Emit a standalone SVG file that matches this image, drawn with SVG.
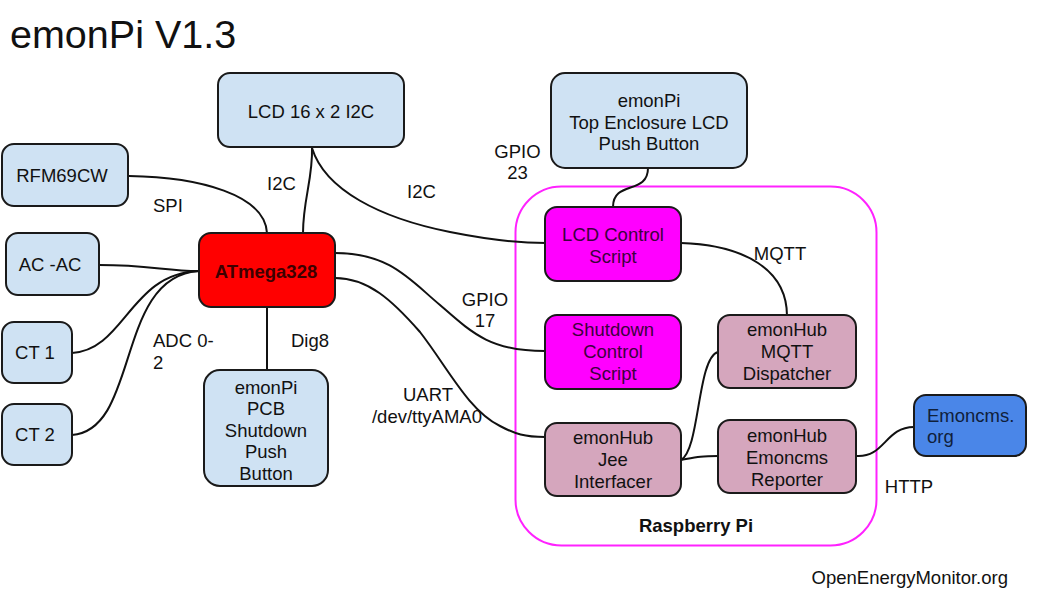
<svg xmlns="http://www.w3.org/2000/svg" width="1041" height="595" viewBox="0 0 1041 595">
<style>
text{font-family:"Liberation Sans",Arial,sans-serif;font-size:18.5px;fill:#111;}
.c{text-anchor:middle;}
.box{stroke:#1a1a1a;stroke-width:2;}
.lb{fill:#cfe2f3;}
.red{fill:#ff0000;}
.mag{fill:#ff00ff;}
.mau{fill:#d5a6bd;}
.blu{fill:#4a86e8;}
.conn path{fill:none;stroke:#111;stroke-width:2;}
.bold{font-weight:bold;}
</style>
<rect width="1041" height="595" fill="#ffffff"/>
<text x="10" y="48" style="font-size:39.5px">emonPi V1.3</text>
<text x="1008" y="584" style="text-anchor:end">OpenEnergyMonitor.org</text>

<g id="rpi">
<rect x="515.5" y="186.5" width="361" height="359" rx="46" fill="none" stroke="#ff22ff" stroke-width="2"/>
<text class="c bold" x="696" y="531.5">Raspberry Pi</text>
</g>

<g class="conn" id="connectors">
<path d="M129,176 C200,177 265,195 267,233"/>
<path d="M312,148 C313,178 303,200 303,233"/>
<path d="M312,148 C325,190 380,218 450,232 C490,240 520,243 546,243"/>
<path d="M99,265 C150,265 165,271 199,271"/>
<path d="M72,353 C125,350 130,273 199,271"/>
<path d="M72,435 C140,430 115,276 199,271"/>
<path d="M267,307 L267,370"/>
<path d="M335,253 C390,253 410,280 440,305 C472,333 490,351 545,351"/>
<path d="M335,278 C368,278 392,300 420,332 C448,368 468,410 500,426 C515,434 525,437 545,437"/>
<path d="M648,168 C648,195 613,180 613,207"/>
<path d="M681,243 C745,245 787,270 787,316"/>
<path d="M681,460 C700,450 697,358 718,352"/>
<path d="M681,460 C697,457 700,456 718,456"/>
<path d="M856,456 C885,458 885,427 914,427"/>
</g>

<g id="labels">
<text x="153" y="212">SPI</text>
<text x="267" y="190">I2C</text>
<text x="407" y="198">I2C</text>
<text class="c" x="517.5" y="158">GPIO</text>
<text class="c" x="517.5" y="179">23</text>
<text class="c" x="780" y="260">MQTT</text>
<text class="c" x="485" y="306">GPIO</text>
<text class="c" x="485" y="327">17</text>
<text x="153" y="347">ADC 0-</text>
<text x="153" y="369">2</text>
<text class="c" x="310" y="347">Dig8</text>
<text class="c" x="428" y="401">UART</text>
<text class="c" x="427" y="423">/dev/ttyAMA0</text>
<text class="c" x="909" y="493">HTTP</text>
</g>

<g id="lcd">
<rect class="box lb" x="218" y="73" width="186" height="74" rx="12"/>
<text class="c" x="311" y="118">LCD 16 x 2 I2C</text>
</g>
<g id="rfm">
<rect class="box lb" x="2" y="144" width="126" height="62" rx="12"/>
<text class="c" x="62" y="182">RFM69CW</text>
</g>
<g id="acac">
<rect class="box lb" x="6" y="233" width="93" height="62" rx="12"/>
<text class="c" x="50" y="271">AC -AC</text>
</g>
<g id="atmega">
<rect class="box red" x="199" y="233" width="136" height="74" rx="12"/>
<text class="c bold" x="266" y="278" style="fill:#3d0000">ATmega328</text>
</g>
<g id="ct1">
<rect class="box lb" x="2" y="322" width="70" height="61" rx="12"/>
<text class="c" x="35" y="359">CT 1</text>
</g>
<g id="ct2">
<rect class="box lb" x="2" y="404" width="70" height="61" rx="12"/>
<text class="c" x="35" y="441">CT 2</text>
</g>
<g id="pcb">
<rect class="box lb" x="204" y="370" width="124" height="116" rx="16"/>
<text class="c" x="266" y="393.5">emonPi</text>
<text class="c" x="266" y="415">PCB</text>
<text class="c" x="266" y="436.5">Shutdown</text>
<text class="c" x="266" y="458">Push</text>
<text class="c" x="266" y="479.5">Button</text>
</g>
<g id="topbtn">
<rect class="box lb" x="551" y="73" width="196" height="95" rx="14"/>
<text class="c" x="649" y="107">emonPi</text>
<text class="c" x="649" y="128.5">Top Enclosure LCD</text>
<text class="c" x="649" y="150">Push Button</text>
</g>
<g id="lcdscript">
<rect class="box mag" x="545" y="207" width="136" height="74" rx="12"/>
<text class="c" x="613" y="241" style="fill:#3d003d">LCD Control</text>
<text class="c" x="613" y="263" style="fill:#3d003d">Script</text>
</g>
<g id="shutdownscript">
<rect class="box mag" x="545" y="315" width="136" height="74" rx="12"/>
<text class="c" x="613" y="336" style="fill:#3d003d">Shutdown</text>
<text class="c" x="613" y="358" style="fill:#3d003d">Control</text>
<text class="c" x="613" y="380" style="fill:#3d003d">Script</text>
</g>
<g id="mqtt">
<rect class="box mau" x="718" y="315" width="138" height="73" rx="12"/>
<text class="c" x="787" y="336">emonHub</text>
<text class="c" x="787" y="358">MQTT</text>
<text class="c" x="787" y="380">Dispatcher</text>
</g>
<g id="jee">
<rect class="box mau" x="545" y="423" width="136" height="73" rx="12"/>
<text class="c" x="613" y="444">emonHub</text>
<text class="c" x="613" y="466">Jee</text>
<text class="c" x="613" y="488">Interfacer</text>
</g>
<g id="reporter">
<rect class="box mau" x="718" y="420" width="138" height="73" rx="12"/>
<text class="c" x="787" y="442">emonHub</text>
<text class="c" x="787" y="464">Emoncms</text>
<text class="c" x="787" y="486">Reporter</text>
</g>
<g id="emoncms">
<rect class="box blu" x="914" y="395" width="112" height="61" rx="12"/>
<text x="927" y="422" style="fill:#10203a">Emoncms.</text>
<text x="927" y="443" style="fill:#10203a">org</text>
</g>
</svg>
